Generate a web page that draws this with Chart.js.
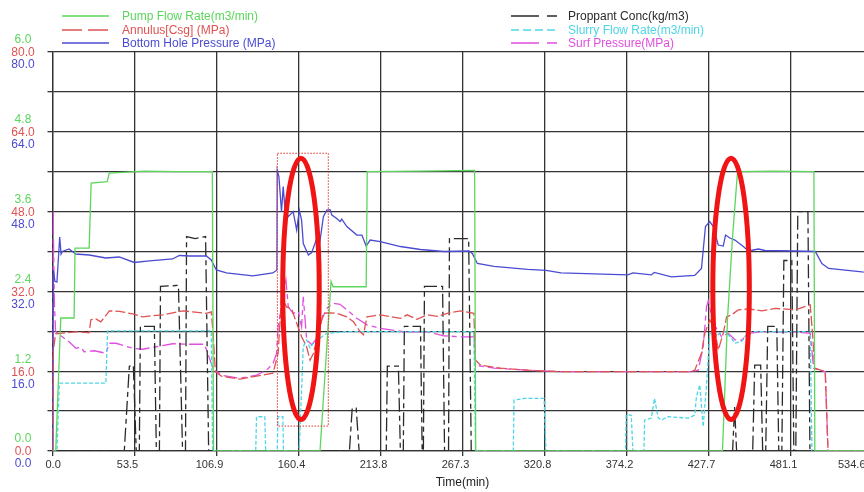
<!DOCTYPE html>
<html>
<head>
<meta charset="utf-8">
<script src="https://cdn.jsdelivr.net/npm/chart.js@4.4.1/dist/chart.umd.min.js"></script>
<style>
html,body{margin:0;padding:0;background:#fff;overflow:hidden;width:864px;height:492px;}
#wrap{position:relative;width:864px;height:492px;overflow:hidden;background:#fff;}
#c{position:absolute;left:0;top:0;}
#legend{position:absolute;left:0;top:0;width:864px;height:52px;font-family:"Liberation Sans",Arial,sans-serif;font-size:12px;}
.item{position:absolute;height:14px;line-height:14px;white-space:nowrap;}
.item svg{position:absolute;left:0;top:4px;}
.item span{position:absolute;top:0;}
</style>
</head>
<body>
<div id="wrap"><canvas id="c" width="880" height="492"></canvas><div id="legend"></div></div>
<script>
// ---------- axis ticks ----------
const xTicks = [0, 53.46, 106.92, 160.38, 213.84, 267.3, 320.76, 374.22, 427.68, 481.14, 534.6];
const xTickLabels = ['0.0','53.5','106.9','160.4','213.8','267.3','320.8','374.2','427.7','481.1','534.6'];
const pressureGrid = [0, 8, 16, 24, 32, 40, 48, 56, 64, 72, 80];
const pressureTicks = [0, 16, 32, 48, 64, 80];
const pressureTickLabels = ['0.0','16.0','32.0','48.0','64.0','80.0'];
const flowTicks = [0, 1.2, 2.4, 3.6, 4.8, 6.0];
const flowTickLabels = ['0.0','1.2','2.4','3.6','4.8','6.0'];

// ---------- series (time in min) ----------
const pumpTime = [0,2.1,5.4,14.1,14.7,23.9,25.2,35.7,37,60,80,104.2,105,174.4,181.6,183,204.5,205.2,240,275.2,275.9,436.8,440.1,443.3,446.6,470,496.4,497,535];
const pumpRate = [0,0,2.0,2.0,3.05,3.05,4.03,4.05,4.18,4.21,4.2,4.2,0,0,2.55,2.47,2.47,4.2,4.21,4.22,0,0,2.0,3.2,4.2,4.21,4.2,0,0];

const annTime = [0,0.5,2,15.2,23.9,25,28.3,31.5,35.9,37,43.5,52.2,58.8,67.5,71.9,78.4,84.9,91.5,100.3,103.5,104.6,106.2,110.1,122.1,133,143.8,147.1,149.3,152.6,155.9,159.2,162.4,165.7,167.9,170,172.3,176.6,181,185.3,191.9,196.2,200.6,202.7,205,209.3,213.7,226.8,231.2,237.7,244.2,250.8,257.3,266,274.7,275.8,279.1,292.2,309.7,331.5,416.6,418.7,423.1,425.3,428.5,431.8,434,437.3,439.5,442.7,447.1,453.7,462.4,471.1,484.2,494,495.5,496.9,503.8,505.6,535];
const annPressure = [0,20,23.5,23.9,23.7,26.3,26.5,25.9,27.6,28.1,28,27.5,26.9,27.2,27.3,27.7,28.1,27.9,27.6,27.9,24,15.9,15,14.4,15,15.6,19.6,30.9,28.9,28.5,25.6,22.9,20.9,18.2,19.5,22.3,27.6,27.7,27.6,26.9,25.9,23.9,23.3,26.9,27.1,27.3,26.6,27.3,26.4,27.3,27,27.6,28.1,27.6,18.2,17.2,16.6,16.2,15.9,15.9,16.2,19.6,23.6,26.3,24.5,20.2,23.6,26.9,27.3,28.3,28.5,28.1,28.6,28.3,29.3,23.6,16.6,15.9,0,0];

const bhpTime = [0,0.5,1.6,2.9,4.7,5.6,6.4,10.8,15.2,23.9,34.8,43.5,53.3,63.2,78.2,82.8,89.3,100.3,103.5,106.8,113.4,130.6,143.7,146.3,146.5,147.6,149.3,150.4,151.5,153.7,156.9,159.2,160.9,162.4,163.5,166.8,169,171.1,172.6,174,176.6,178.8,181,182.1,185.3,187.5,188.6,191.9,198.4,201.7,204.5,207.1,213.7,226.8,239.9,255.1,271.5,273.7,277,287.8,309.7,321.7,331.5,375.1,378.4,390.4,392.3,403.5,418.7,423.1,425.7,428.5,430.8,434,437.3,438.8,441.6,444.9,450.4,453.7,460.2,464.5,484.2,497.3,501.6,506,527.7,535];
const bhpPressure = [0,36.3,34,33.9,42.9,39.5,40,40.5,39.5,39.3,38.7,38.9,37.8,38.1,38.5,39.2,39.1,39.1,38.3,36.3,35.7,35.1,35.7,36.3,56.3,55,48,53,48.7,47,48,44.3,48.3,46.3,41.6,39.3,39.8,41.6,43,41.3,47,48.3,48.4,47.3,46.6,46,46.5,45,43.3,43.3,41.1,42.3,42,41,40.4,40,40.1,39.6,37.6,37,36.4,36.2,35.7,35.3,35.7,35.3,35.8,34.9,35.2,36.6,45,46,45,41.3,41.1,43.3,42.7,42.3,41,40.1,40.5,40.2,40.1,40,37.6,36.6,35.9,35.8];

const propTime = [0,46.8,50.1,52.7,54.6,56.6,57.3,66.4,67.7,69.7,70.4,82.1,84.8,86.7,87.4,93,99.8,101.8,193.6,195.4,198,199.9,217.6,218.3,225.5,226.8,228.7,229.4,239.9,241,241.8,242.5,254.3,255.6,258.2,258.8,271.3,273,443.4,444.7,446,456.5,457.8,461.7,463,465,466.3,472.2,473.5,475.5,476.8,482,483.3,484.6,485.9,492.5,493.8,535];
const propConc = [0,0,85,86,0,0,125,125,0,0,165,166,0,0,215,213,215,0,0,43,43,0,0,85,85,0,0,125,125,0,0,165,165,0,0,213,213,0,0,44,0,0,86,86,0,0,125,125,0,0,191,191,0,0,240,240,0,0];

const slurryTime = [0,2.9,4.5,34.8,35.9,103.5,104.4,132.5,133,138.4,139,146.5,147,150.2,150.6,160.8,163.5,165.7,167.9,170,174.4,178.8,191.9,274.7,275.8,300.4,300.9,307.5,320.5,321.7,373.6,374,377.3,378.4,385.6,386,390.4,392.5,394.8,396.9,401.3,414.4,418.7,419.8,422,424.2,426.4,428.5,431.8,434,438.3,442.7,444.9,449.3,453.7,494,495.1,535];
const slurryRate = [0,0,2.04,2.04,3.61,3.61,0,0,1.03,1.03,0,0,1.03,1.03,0,0,3.14,3.34,3.1,3.24,3.39,3.54,3.59,3.59,0,0,1.53,1.58,1.58,0,0,1.08,1.08,0,0,0.93,0.99,1.58,1.0,0.93,1.03,0.99,1.08,1.63,1.99,0.73,1.99,3.54,3.6,3.5,3.6,3.39,3.24,3.3,3.59,3.59,0,0];

const surfTime = [0,0.4,1.2,2,6.4,10.8,15.2,18.5,20.6,27.2,34.8,37,41.4,52.2,58.8,67.5,78.4,89.3,99.1,104.6,110.1,122.1,133,139.5,141.7,143.8,145,146.1,147.1,150.4,152.2,153.7,156.9,160.2,162.4,163.5,165.7,169,172.3,175.5,178.8,183.1,187.5,191.9,198.4,205,213.7,228.9,244.2,255.1,266,274.7,275.8,287.8,309.7,331.5,416.6,421,424.2,426.4,427.5,430.8,436.3,440.6,444.9,449.3,453.7,462.4,484.2,494,496.2,503.8,505.6,535];
const surfPressure = [0,48.3,30,24,22.9,21.9,20.6,20.8,19.9,20.1,19.6,21.6,21.6,20.6,20.4,20.9,21.5,21.4,21.4,16.6,15.2,14.6,15.2,16.2,16.9,17.6,18.6,19.6,25,30.9,34.3,28.9,27.6,28,24.9,30.9,22.3,21.3,22.6,26.3,28.6,29.6,29.4,28.3,26.6,25.3,24.6,23.9,23.9,23.1,22.9,22.9,17.2,16.6,16.2,15.9,15.9,16.2,20.9,28.9,30.1,25.6,22.9,23.6,22.3,22.2,23.6,23.9,23.9,23.6,16.6,15.9,0,0];

// ---------- annotation marks (time, MPa) ----------
const markEllipseTime = [162.0, 442.4];
const markEllipsePressure = [32.5, 32.5];
const markEllipseHalfTime = [11.9, 11.9];
const markEllipseHalfPressure = [26.2, 26.2];
const markBoxTime = [146.6, 179.8];
const markBoxPressure = [5.0, 59.7];

// ---------- chart ----------
const FONT = '"Liberation Sans", Arial, sans-serif';
Chart.defaults.font.family = FONT;
const zip = (t, v) => t.map((x, i) => ({x: x, y: v[i]}));
const GRID = '#333333';

// the three left axes share one label column: stretch the two extra axes over it
const axisStackPlugin = {
  id: 'axisStack',
  afterLayout(chart) {
    ['yAnn', 'yPump'].forEach(id => {
      const s = chart.scales[id];
      s.left = 0;
      s.right = chart.chartArea.left;
      s.width = s.right;
    });
  }
};

const marksPlugin = {
  id: 'marks',
  afterDatasetsDraw(chart) {
    const ctx = chart.ctx, xs = chart.scales.x, ys = chart.scales.yBHP;
    ctx.save();
    ctx.strokeStyle = '#e03030';
    ctx.lineWidth = 1;
    ctx.setLineDash([1.5, 1.5]);
    const l = xs.getPixelForValue(markBoxTime[0]), r = xs.getPixelForValue(markBoxTime[1]);
    const b = ys.getPixelForValue(markBoxPressure[0]), t = ys.getPixelForValue(markBoxPressure[1]);
    ctx.strokeRect(l, t, r - l, b - t);
    ctx.setLineDash([]);
    ctx.strokeStyle = '#f01414';
    ctx.lineWidth = 5;
    for (let i = 0; i < markEllipseTime.length; i++) {
      const cx = xs.getPixelForValue(markEllipseTime[i]);
      const cy = ys.getPixelForValue(markEllipsePressure[i]);
      const rx = Math.abs(xs.getPixelForValue(markEllipseTime[i] + markEllipseHalfTime[i]) - cx);
      const ry = Math.abs(ys.getPixelForValue(markEllipsePressure[i] + markEllipseHalfPressure[i]) - cy);
      ctx.beginPath();
      ctx.ellipse(cx, cy, rx, ry, 0, 0, Math.PI * 2);
      ctx.stroke();
    }
    ctx.restore();
  }
};

function ds(label, t, v, axis, color, dash) {
  return {label: label, data: zip(t, v), yAxisID: axis, borderColor: color, backgroundColor: color,
    borderWidth: 1.3, borderDash: dash, pointRadius: 0, tension: 0, fill: false};
}

const chart = new Chart(document.getElementById('c'), {
  type: 'line',
  data: {
    datasets: [
      ds('Pump Flow Rate(m3/min)', pumpTime, pumpRate, 'yPump', '#5cd65c', []),
      ds('Annulus[Csg] (MPa)', annTime, annPressure, 'yAnn', '#e05252', [10, 3]),
      ds('Bottom Hole Pressure (MPa)', bhpTime, bhpPressure, 'yBHP', '#4b4bd2', []),
      ds('Proppant Conc(kg/m3)', propTime, propConc, 'yProp', '#2a2a2a', [14, 4, 5, 4]),
      ds('Slurry Flow Rate(m3/min)', slurryTime, slurryRate, 'ySlurry', '#4ed6e6', [4, 2]),
      ds('Surf Pressure(MPa)', surfTime, surfPressure, 'yAnn', '#e04fe0', [14, 4, 5, 4])
    ]
  },
  options: {
    responsive: false,
    animation: false,
    devicePixelRatio: 1,
    layout: {padding: {top: 52, left: 0, right: 7.5, bottom: 0}},
    plugins: {legend: {display: false}, tooltip: {enabled: false}},
    scales: {
      x: {
        type: 'linear', min: 0, max: 534.6,
        afterBuildTicks: s => { s.ticks = xTicks.map(v => ({value: v})); },
        afterFit: s => { s.height = 41; s.paddingLeft = 0; s.paddingRight = 0; },
        ticks: {callback: (v, i) => xTickLabels[i], autoSkip: false, maxRotation: 0, minRotation: 0,
          align: 'inner', labelOffset: -7, padding: 2, color: '#333', font: {size: 11}},
        grid: {color: GRID, lineWidth: 1.3, tickLength: 5},
        border: {color: GRID, width: 1.3},
        title: {display: true, text: 'Time(min)', color: '#222', font: {size: 12}, padding: {top: 3, bottom: 2}}
      },
      yBHP: {
        type: 'linear', position: 'left', min: 0, max: 80, weight: 1,
        afterBuildTicks: s => { s.ticks = pressureGrid.map(v => ({value: v})); },
        afterFit: s => { s.width = 52.5; },
        ticks: {callback: v => { const i = pressureTicks.indexOf(v); return i < 0 ? '' : pressureTickLabels[i]; },
          autoSkip: false, color: '#4b4bd2', font: {size: 12}, labelOffset: 13, crossAlign: 'center', padding: 12.8},
        grid: {color: GRID, lineWidth: 1.3, tickLength: 5},
        border: {color: GRID, width: 1.3}
      },
      yAnn: {
        type: 'linear', position: 'left', min: 0, max: 80, weight: 2,
        afterBuildTicks: s => { s.ticks = pressureTicks.map(v => ({value: v})); },
        afterFit: s => { s.width = 0; },
        ticks: {callback: (v, i) => pressureTickLabels[i], autoSkip: false, color: '#e05252', font: {size: 12},
          labelOffset: 1, crossAlign: 'center', padding: 12.8},
        grid: {display: false, tickLength: 5},
        border: {display: false}
      },
      yPump: {
        type: 'linear', position: 'left', min: 0, max: 6, weight: 3,
        afterBuildTicks: s => { s.ticks = flowTicks.map(v => ({value: v})); },
        afterFit: s => { s.width = 0; },
        ticks: {callback: (v, i) => flowTickLabels[i], autoSkip: false, color: '#5cd65c', font: {size: 12},
          labelOffset: -12, crossAlign: 'center', padding: 16.2},
        grid: {display: false, tickLength: 5},
        border: {display: false}
      },
      yProp: {type: 'linear', display: false, min: 0, max: 400},
      ySlurry: {type: 'linear', display: false, min: 0, max: 12}
    }
  },
  plugins: [axisStackPlugin, marksPlugin]
});

// ---------- two-column legend built from the datasets ----------
const legendSlots = [
  {left: 62, top: 9, text: 60}, {left: 62, top: 22.5, text: 60}, {left: 62, top: 36, text: 60},
  {left: 511, top: 9, text: 57}, {left: 511, top: 22.5, text: 57}, {left: 511, top: 36, text: 57}
];
const legendEl = document.getElementById('legend');
chart.data.datasets.forEach((d, i) => {
  const slot = legendSlots[i];
  const item = document.createElement('div');
  item.className = 'item';
  item.style.left = slot.left + 'px';
  item.style.top = slot.top + 'px';
  const dash = d.borderDash.length ? d.borderDash.map(n => n * 2).join(' ') : 'none';
  item.innerHTML = '<svg width="48" height="6"><line x1="0" y1="3" x2="47" y2="3" stroke="' + d.borderColor +
    '" stroke-width="1.4" stroke-dasharray="' + dash + '"/></svg>';
  const span = document.createElement('span');
  span.style.left = slot.text + 'px';
  span.style.color = d.borderColor;
  span.textContent = d.label;
  item.appendChild(span);
  legendEl.appendChild(item);
});
</script>
</body>
</html>
